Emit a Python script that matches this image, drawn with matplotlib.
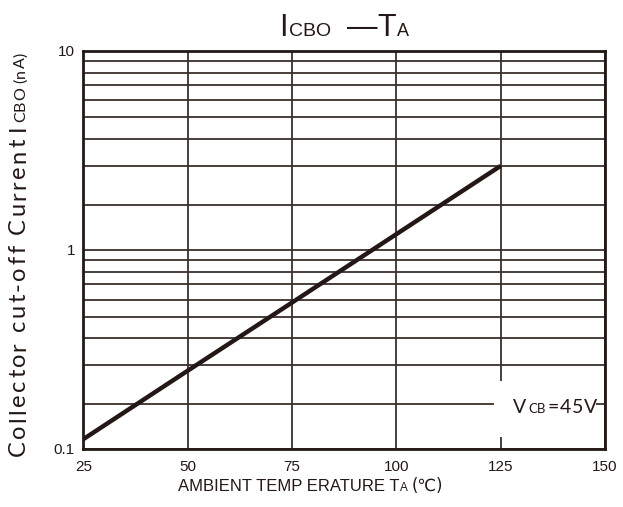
import matplotlib
matplotlib.use("Agg")
import matplotlib.pyplot as plt
from matplotlib.patches import Rectangle
from matplotlib.ticker import FixedLocator, NullFormatter

# ---- data -------------------------------------------------------------
temps = [25, 50, 75, 100, 125]                 # ambient temperature, degC
icbo = [0.112, 0.247, 0.543, 1.197, 2.636]     # collector cut-off current, nA

x_ticks = [25, 50, 75, 100, 125, 150]
y_ticks = [0.1, 1, 10]
y_tick_labels = ["0.1", "1", "10"]

# printed chart grid levels inside each decade (1.x ... 8.9)
grid_mult = [1.675, 2.636, 3.597, 4.613, 5.623, 6.745, 7.745, 8.892]
grid_levels = [m * d for d in (0.1, 1.0) for m in grid_mult]

# ---- style -------------------------------------------------------------
INK = "#231815"
GRID = "#3a302c"
W, H = 623, 507
SANS = ["Liberation Sans", "DejaVu Sans"]
HUM = ["Lato", "DejaVu Sans"]

fig = plt.figure(figsize=(W / 100, H / 100), dpi=100)
ax = fig.add_axes([83.3 / W, 58 / H, 521.7 / W, 398.5 / H])

ax.plot(temps, icbo, color=INK, lw=3.2, solid_capstyle="butt", zorder=3)

ax.set_yscale("log")
ax.set_xlim(25, 150)
ax.set_ylim(0.1, 10)
ax.set_xticks(x_ticks)
ax.set_yticks(y_ticks, y_tick_labels)
ax.yaxis.set_minor_locator(FixedLocator(grid_levels))
ax.yaxis.set_minor_formatter(NullFormatter())
ax.set_axisbelow(True)
ax.grid(True, which="both", color=GRID, lw=1.3)
ax.tick_params(which="both", length=0, colors=INK, labelsize=11)
ax.tick_params(axis="x", pad=8)
ax.tick_params(axis="y", pad=6)
for lab in ax.get_xticklabels() + ax.get_yticklabels():
    lab.set_family(SANS)
for sp in ax.spines.values():
    sp.set_color(INK)
    sp.set_linewidth(2)

# white patch behind the test-condition note
ax.add_patch(Rectangle((0.787, 0.030), 0.196, 0.141, transform=ax.transAxes,
                       facecolor="white", edgecolor="none", zorder=1.5))


def text_run(runs, x, y, rotation=0, center=False):
    """Draw consecutive text pieces of mixed size on one baseline.
    runs: (text, size, family, gap_after_px[, tracking_px]); x, y in pixels
    from the top-left corner.  With tracking, letters are set one by one."""
    renderer = fig.canvas.get_renderer()
    pieces = []
    for r in runs:
        s, size, fam, gap = r[:4]
        track = r[4] if len(r) > 4 else None
        if track is None:
            pieces.append((s, size, fam, gap))
        else:
            for i, ch in enumerate(s):
                last = i == len(s) - 1
                pieces.append((ch, size, fam, gap if last else track))
    widths = []
    for s, size, fam, gap in pieces:
        if s == " ":
            widths.append(size * 0.27 * 100 / 72)
            continue
        t = fig.text(0, 0, s, fontsize=size, family=fam)
        widths.append(t.get_window_extent(renderer).width)
        t.remove()
    total = sum(w + p[3] for w, p in zip(widths, pieces))
    pos = -total / 2 if center else 0.0
    for (s, size, fam, gap), w in zip(pieces, widths):
        if s != " ":
            if rotation == 0:
                px, py = x + pos, y
            else:
                px, py = x, y - pos
            fig.text(px / W, 1 - py / H, s, fontsize=size, family=fam,
                     color=INK, ha="left", va="baseline", rotation=rotation,
                     rotation_mode="anchor", zorder=5)
        pos += w + gap


# title
text_run([("I", 22, SANS, 1), ("CBO", 14, SANS, 16),
          ("\u2014", 22, SANS, 0), ("T", 22, SANS, 1), ("A", 13, SANS, 0)],
         344, 36, center=True)

# x-axis label
text_run([("AMBIENT TEMP ERATURE T", 12, SANS, 0), ("A", 8.5, SANS, 4),
          ("(\u2103)", 12, ["DejaVu Sans"], 0)],
         178, 491)

# y-axis label
text_run([("Collector cut-off Current", 17, HUM, 8, 2.4), ("I", 17, HUM, 2),
          ("CBO", 11.5, HUM, 4, 0.8), ("(nA)", 11.5, HUM, 0, 0.6)],
         25, 456, rotation=90)

# test condition
text_run([("V", 14, HUM, 2), ("CB", 9.5, HUM, 2), ("=45V", 14, HUM, 0, 0.8)],
         513, 413)

fig.savefig("out.png", dpi=100)
